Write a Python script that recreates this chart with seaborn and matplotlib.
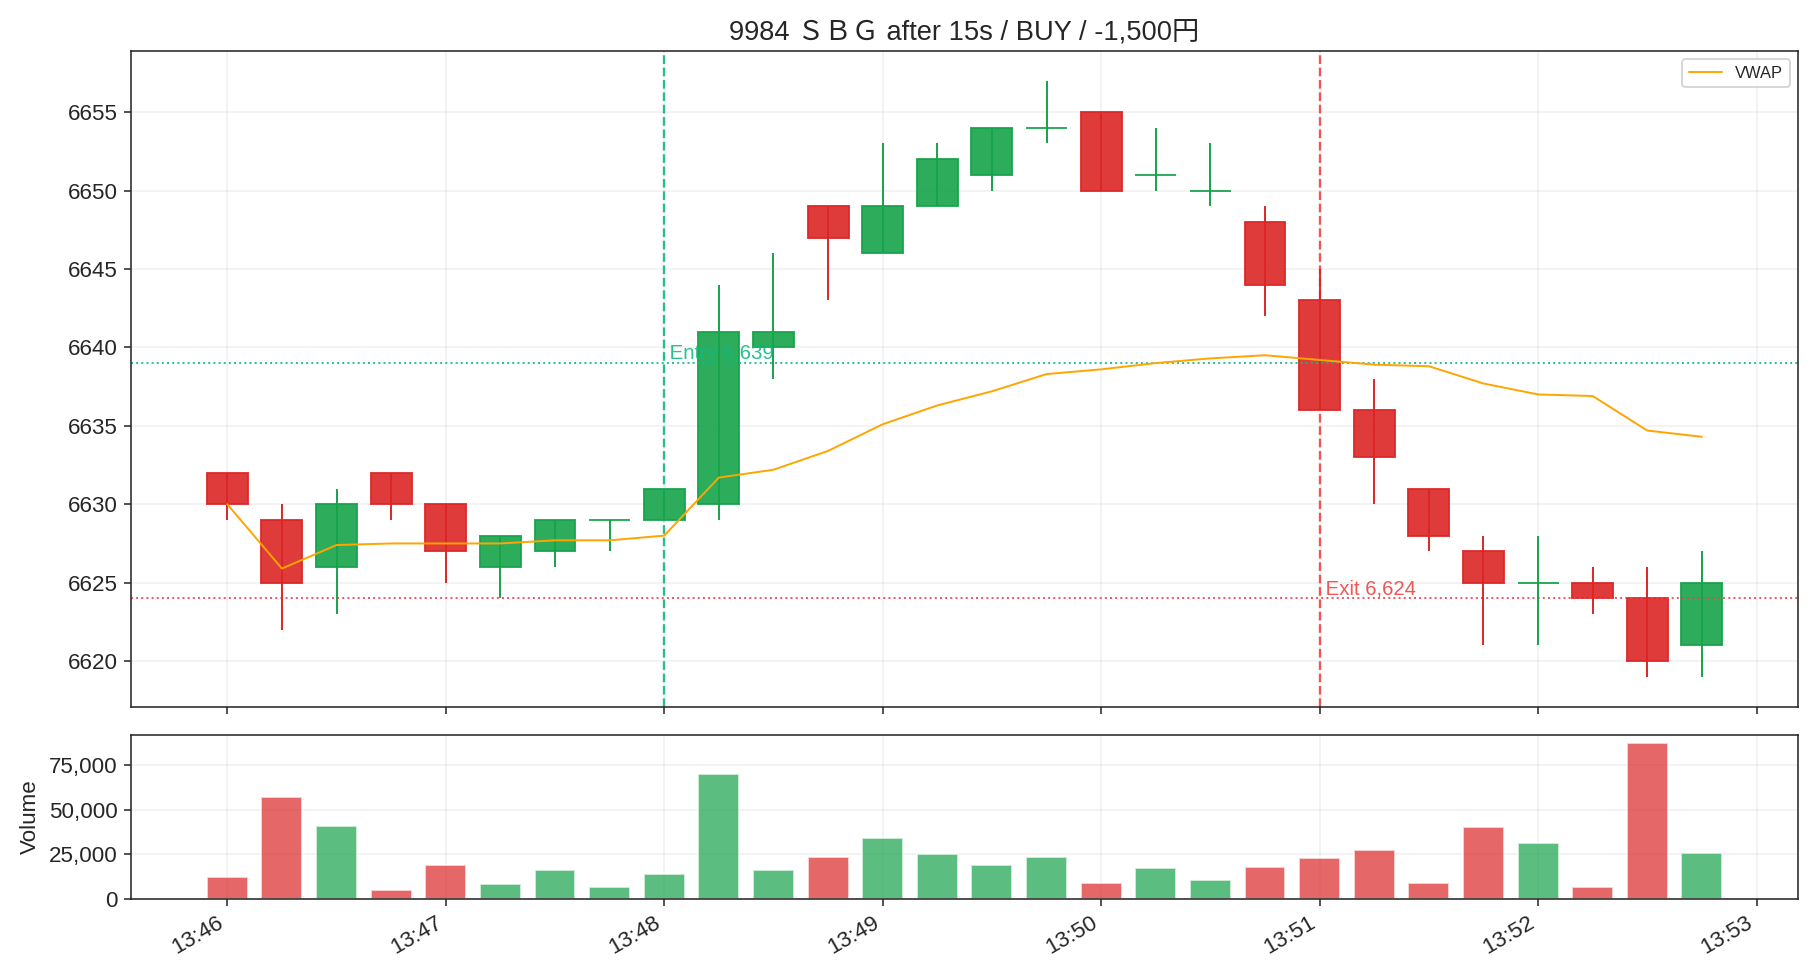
import pandas as pd
import numpy as np
import matplotlib
matplotlib.use("Agg")
import matplotlib.pyplot as plt
import matplotlib.dates as mdates
import matplotlib.ticker as mticker
import seaborn as sns

# === データ (15秒足) ===
start = "2024-01-01 13:46:00"
opens  = [6632, 6629, 6626, 6632, 6630, 6626, 6627, 6629, 6629, 6630, 6640, 6649, 6646, 6649,
          6651, 6654, 6655, 6651, 6650, 6648, 6643, 6636, 6631, 6627, 6625, 6625, 6624, 6621]
highs  = [6632, 6630, 6631, 6632, 6630, 6628, 6629, 6629, 6631, 6644, 6646, 6649, 6653, 6653,
          6654, 6657, 6655, 6654, 6653, 6649, 6645, 6638, 6631, 6628, 6628, 6626, 6626, 6627]
lows   = [6629, 6622, 6623, 6629, 6625, 6624, 6626, 6627, 6629, 6629, 6638, 6643, 6646, 6649,
          6650, 6653, 6650, 6650, 6649, 6642, 6636, 6630, 6627, 6621, 6621, 6623, 6619, 6619]
closes = [6630, 6625, 6630, 6630, 6627, 6628, 6629, 6629, 6631, 6641, 6641, 6647, 6649, 6652,
          6654, 6654, 6650, 6651, 6650, 6644, 6636, 6633, 6628, 6625, 6625, 6624, 6620, 6625]
volumes = [12000, 57000, 41000, 5000, 19000, 8000, 16000, 6500, 14000, 70000, 16000, 23500, 34000, 25000,
           19000, 23500, 9000, 17000, 10500, 18000, 23000, 27500, 9000, 40000, 31500, 6500, 87500, 25500]
vwap = [6630.0, 6625.9, 6627.4, 6627.5, 6627.5, 6627.5, 6627.7, 6627.7, 6628.0, 6631.7, 6632.2, 6633.4,
        6635.1, 6636.3, 6637.2, 6638.3, 6638.6, 6639.0, 6639.3, 6639.5, 6639.2, 6638.9, 6638.8, 6637.7,
        6637.0, 6636.9, 6634.7, 6634.3]

entry_time, entry_price = "2024-01-01 13:48:00", 6639
exit_time, exit_price = "2024-01-01 13:51:00", 6624
title = "9984 ＳＢＧ after 15s / BUY / -1,500円"

df = pd.DataFrame({"open": opens, "high": highs, "low": lows, "close": closes,
                   "volume": volumes, "vwap": vwap})
df["time"] = pd.date_range(start, periods=len(df), freq="15s")
df["up"] = df["close"] >= df["open"]

UP, DOWN = "#16a34a", "#dc2626"
ENTRY_C, EXIT_C = "#10b981", "#ef4444"

# === スタイル ===
sns.set_style("ticks")
plt.rcParams["font.family"] = ["Liberation Sans", "Noto Sans CJK JP", "DejaVu Sans"]
plt.rcParams["axes.edgecolor"] = "#222222"
plt.rcParams["xtick.labelsize"] = 11.5
plt.rcParams["ytick.labelsize"] = 11.5

fig = plt.figure(figsize=(13, 7), dpi=140)
ax = fig.add_axes([0.072, 0.279, 0.916, 0.669])
axv = fig.add_axes([0.072, 0.083, 0.916, 0.167], sharex=ax)

x = mdates.date2num(df["time"])
width = 11.25 / 86400
colors = np.where(df["up"], UP, DOWN)

# === ローソク足 ===
ax.vlines(x, df["low"], df["high"], colors=colors, linewidth=1.0, zorder=3)
ax.bar(x, df["close"] - df["open"], bottom=df["open"], width=width,
       color=colors, edgecolor=colors, linewidth=1.0, alpha=0.9, zorder=2)

sns.lineplot(data=df, x="time", y="vwap", ax=ax, color="orange", linewidth=1.0,
             label="VWAP", zorder=4)

# エントリー / イグジット
et, xt = mdates.date2num(pd.Timestamp(entry_time)), mdates.date2num(pd.Timestamp(exit_time))
ax.axvline(et, color=ENTRY_C, linestyle="--", linewidth=1.2, alpha=0.9)
ax.axvline(xt, color=EXIT_C, linestyle="--", linewidth=1.2, alpha=0.9)
ax.axhline(entry_price, color=ENTRY_C, linestyle=":", linewidth=1.0, alpha=0.9)
ax.axhline(exit_price, color=EXIT_C, linestyle=":", linewidth=1.0, alpha=0.9)
ax.text(et, entry_price, f" Entry {entry_price:,}", color=ENTRY_C, fontsize=10.5,
        va="bottom", ha="left", alpha=0.9)
ax.text(xt, exit_price, f" Exit {exit_price:,}", color=EXIT_C, fontsize=10.5,
        va="bottom", ha="left", alpha=0.9)

ax.set_title(title, fontsize=14)
ax.set_xlabel("")
ax.set_ylabel("")
ax.grid(True, alpha=0.3)
ax.legend(loc="upper right", fontsize=8.5)
ax.tick_params(labelbottom=False)

# === 出来高 ===
axv.bar(x, df["volume"], width=width, color=colors, alpha=0.7)
axv.set_ylabel("Volume", fontsize=11.5)
axv.grid(True, alpha=0.3)
axv.yaxis.set_major_locator(mticker.MultipleLocator(25000))
axv.yaxis.set_major_formatter(mticker.StrMethodFormatter("{x:,.0f}"))
axv.xaxis.set_major_locator(mdates.MinuteLocator())
axv.xaxis.set_major_formatter(mdates.DateFormatter("%H:%M"))
for lbl in axv.get_xticklabels():
    lbl.set_rotation(30)
    lbl.set_ha("right")

for a in (ax, axv):
    for s in a.spines.values():
        s.set_visible(True)

fig.savefig("out.png", dpi=140)
plt.close()
